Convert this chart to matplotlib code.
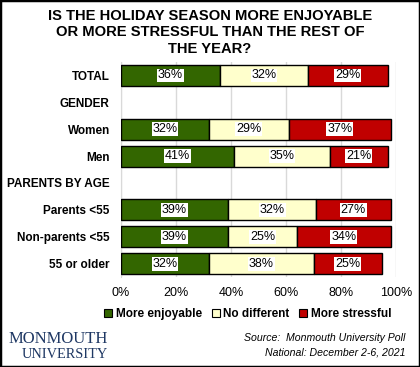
import matplotlib.pyplot as plt
from matplotlib.patches import Rectangle

plt.rcParams['font.family'] = ['Liberation Sans', 'DejaVu Sans']

# rows top to bottom; None marks a group heading with no bar
categories = ["TOTAL", "GENDER", "Women", "Men", "PARENTS BY AGE",
              "Parents <55", "Non-parents <55", "55 or older"]
enjoyable = [36, None, 32, 41, None, 39, 39, 32]
no_diff = [32, None, 29, 35, None, 32, 25, 38]
stressful = [29, None, 37, 21, None, 27, 34, 25]

series_names = ["More enjoyable", "No different", "More stressful"]
colors = ["#336600", "#FFFFCC", "#C00000"]

fig = plt.figure(figsize=(4.2, 3.67), dpi=100)
ax = fig.add_axes([0.288, 0.245, 0.655, 0.586])

ys = list(range(len(categories)))
for i, cat in enumerate(categories):
    if enjoyable[i] is None:
        continue
    left = 0
    for vals, col in zip([enjoyable, no_diff, stressful], colors):
        v = vals[i]
        ax.barh(i, v, left=left, height=0.78, color=col,
                edgecolor="black", linewidth=1, zorder=3)
        ax.text(left + v / 2, i, f"{v}%", ha="center", va="center",
                fontsize=9, color="black", zorder=4,
                bbox=dict(facecolor="white", edgecolor="none", pad=0.6))
        left += v

ax.set_xlim(0, 100)
ax.set_ylim(len(categories) - 0.5, -0.5)
ax.set_xticks([0, 20, 40, 60, 80, 100])
ax.set_xticklabels([f"{t}%" for t in range(0, 101, 20)], fontsize=9)
ax.set_yticks(ys)
ax.set_yticklabels(categories, fontsize=8.5, fontweight="bold")
ax.tick_params(axis="y", length=0, pad=8)
ax.tick_params(axis="x", length=0, pad=7)
ax.grid(axis="x", color="#D9D9D9", linewidth=1, zorder=0)
for s in ["top", "right", "bottom"]:
    ax.spines[s].set_visible(False)
ax.spines["left"].set_color("#D9D9D9")

fig.text(0.5, 0.975, "IS THE HOLIDAY SEASON MORE ENJOYABLE\nOR MORE STRESSFUL THAN THE REST OF\nTHE YEAR?",
         ha="center", va="top", fontsize=10.6, fontweight="bold", linespacing=1.2)

handles = [Rectangle((0, 0), 1, 1, facecolor=c, edgecolor="black", linewidth=0.8)
           for c in colors]
fig.legend(handles, series_names, loc="center", bbox_to_anchor=(0.59, 0.145),
           ncol=3, frameon=False, handlelength=0.7, handleheight=0.7,
           handletextpad=0.3, columnspacing=0.8, prop={"weight": "bold", "size": 8.5})

fig.text(0.02, 0.075, "MONMOUTH", fontsize=12, family="Liberation Serif",
         color="#1F3864", ha="left", va="center")
fig.text(0.052, 0.033, "UNIVERSITY", fontsize=10.4, family="Liberation Serif",
         color="#1F3864", ha="left", va="center")
fig.text(0.965, 0.079, "Source:  Monmouth University Poll", fontsize=7.6,
         style="italic", ha="right", va="center")
fig.text(0.965, 0.04, "National: December 2-6, 2021", fontsize=7.6,
         style="italic", ha="right", va="center")

fig.add_artist(Rectangle((0, 0), 1, 1, transform=fig.transFigure, fill=False,
                         edgecolor="black", linewidth=2.5))

fig.savefig("out.png", dpi=100)
